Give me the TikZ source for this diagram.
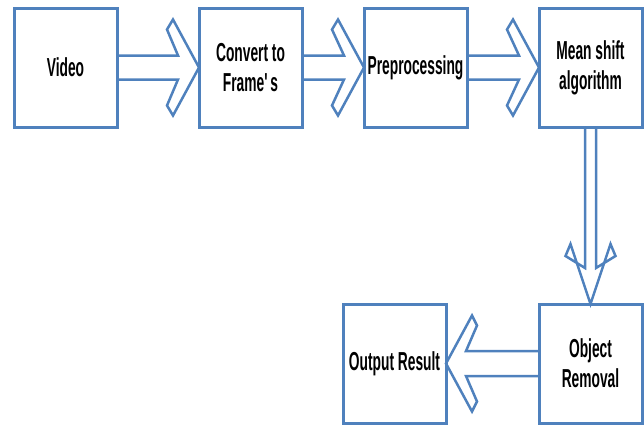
\documentclass[tikz,border=0pt]{standalone}
\usepackage{fontspec}
\setmainfont{Liberation Sans}[FakeStretch=0.53]
\usetikzlibrary{positioning, calc}
\definecolor{boxblue}{RGB}{79,129,189}

% hollow block arrow: from, to, shaft half width, shaft end, back point (dist, half width), outer point (dist, half width)
\newcommand{\hollowarrow}[8]{%
  \coordinate (tl) at (#1);
  \coordinate (tp) at (#2);
  \coordinate (sb) at ($(tp)!#4pt!(tl)$);
  \coordinate (pb) at ($(tp)!#5pt!(tl)$);
  \coordinate (ob) at ($(tp)!#7pt!(tl)$);
  \draw[flowarrow] ($(tl)!#3pt!90:(tp)$) -- ($(sb)!#3pt!90:(tp)$) -- ($(pb)!#6pt!90:(tp)$)
    -- ($(ob)!#8pt!90:(tp)$) -- (tp) -- ($(ob)!#8pt!-90:(tp)$) -- ($(pb)!#6pt!-90:(tp)$)
    -- ($(sb)!#3pt!-90:(tp)$) -- ($(tl)!#3pt!-90:(tp)$);
}

\begin{document}
\begin{tikzpicture}[x=1pt, y=-1pt,
    stagebox/.style={draw=boxblue, line width=3pt, fill=white, minimum width=103pt,
      minimum height=119pt, inner sep=0pt, outer sep=0pt, align=center,
      font=\fontsize{26}{30}\selectfont\bfseries},
    flowarrow/.style={draw=boxblue, line width=2.5pt}]
    \useasboundingbox (0,0) rectangle (644,424);

    % === TOP ROW ===
    \node[stagebox] (video) at (65.5,67.5) {Video};
    \node[stagebox, right=82pt of video] (frames) {Convert to\\Frame\textquotesingle s};
    \node[stagebox, right=62pt of frames] (prep) {Preprocessing};
    \node[stagebox, right=72pt of prep] (meanshift) {Mean shift\\algorithm};

    % === BOTTOM ROW ===
    \node[stagebox, below=177pt of meanshift] (removal) {Object\\Removal};
    \node[stagebox, left=93pt of removal] (output) {Output Result};

    % === ARROWS ===
    \hollowarrow{video.east}{frames.west}{12}{21}{32}{38}{26}{48}
    \hollowarrow{frames.east}{prep.west}{12}{20}{32}{38}{26}{48}
    \hollowarrow{prep.east}{meanshift.west}{12}{20}{32}{38}{26}{48}
    \hollowarrow{meanshift.south}{removal.north}{5.5}{36}{48}{25}{60}{20}
    \hollowarrow{removal.west}{output.east}{12.5}{20}{31}{38}{26}{48}

\end{tikzpicture}
\end{document}
